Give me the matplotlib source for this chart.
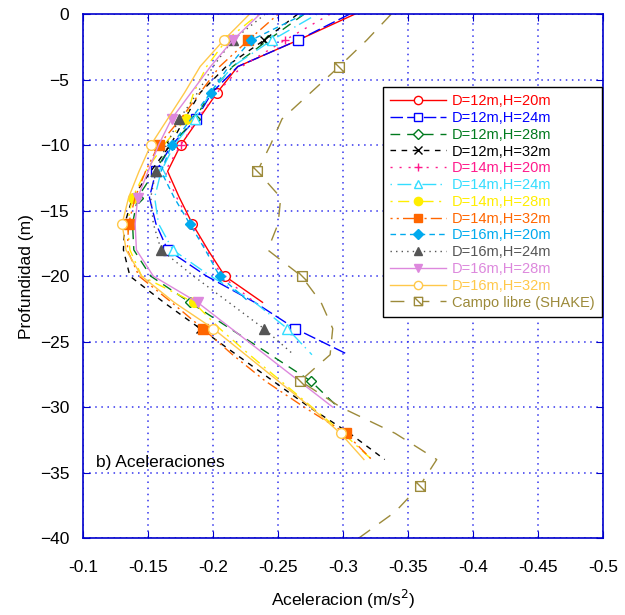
import matplotlib.pyplot as plt
from matplotlib.path import Path
import numpy as np

plt.rcParams['font.family'] = ['Liberation Sans', 'DejaVu Sans']

# profundidades cada 2 m
depth = np.arange(0, -42, -2)

# aceleraciones (m/s2)
a_d12_h20 = [-0.309, -0.265, -0.219, -0.203, -0.189, -0.175, -0.165, -0.174, -0.184, -0.196, -0.209, -0.238]
a_d12_h24 = [-0.305, -0.265, -0.219, -0.199, -0.187, -0.168, -0.156, -0.151, -0.156, -0.165, -0.195, -0.232, -0.263, -0.304]
a_d12_h28 = [-0.270, -0.242, -0.215, -0.198, -0.186, -0.168, -0.155, -0.142, -0.138, -0.139, -0.152, -0.182, -0.213, -0.244, -0.275, -0.296]
a_d12_h32 = [-0.265, -0.239, -0.210, -0.190, -0.178, -0.167, -0.152, -0.138, -0.132, -0.131, -0.136, -0.162, -0.190, -0.218, -0.246, -0.274, -0.305, -0.332]
a_d14_h20 = [-0.290, -0.255, -0.222, -0.203, -0.188, -0.175, -0.163, -0.172, -0.183, -0.195, -0.207, -0.232]
a_d14_h24 = [-0.280, -0.245, -0.215, -0.198, -0.186, -0.170, -0.160, -0.155, -0.158, -0.169, -0.198, -0.232, -0.257, -0.276]
a_d14_h28 = [-0.235, -0.210, -0.195, -0.185, -0.179, -0.162, -0.148, -0.138, -0.134, -0.136, -0.145, -0.185, -0.205, -0.228, -0.252, -0.276, -0.300, -0.322]
a_d14_h32 = [-0.250, -0.227, -0.205, -0.190, -0.175, -0.158, -0.148, -0.140, -0.135, -0.134, -0.143, -0.168, -0.192, -0.215, -0.240, -0.270, -0.302, -0.322]
a_d16_h20 = [-0.270, -0.229, -0.212, -0.198, -0.183, -0.168, -0.160, -0.170, -0.182, -0.194, -0.205, -0.228]
a_d16_h24 = [-0.240, -0.215, -0.200, -0.188, -0.174, -0.164, -0.156, -0.152, -0.154, -0.160, -0.185, -0.212, -0.239, -0.262]
a_d16_h28 = [-0.236, -0.215, -0.198, -0.183, -0.168, -0.158, -0.150, -0.142, -0.140, -0.141, -0.154, -0.188, -0.214, -0.240, -0.266, -0.292]
a_d16_h32 = [-0.228, -0.208, -0.190, -0.178, -0.165, -0.152, -0.143, -0.135, -0.130, -0.133, -0.145, -0.170, -0.200, -0.225, -0.250, -0.275, -0.298, -0.316]
a_shake = [-0.337, -0.318, -0.297, -0.275, -0.253, -0.244, -0.234, -0.252, -0.250, -0.242, -0.268, -0.283,
           -0.292, -0.290, -0.267, -0.298, -0.340, -0.372, -0.359, -0.340, -0.312]

labels = ['D=12m,H=20m', 'D=12m,H=24m', 'D=12m,H=28m', 'D=12m,H=32m',
          'D=14m,H=20m', 'D=14m,H=24m', 'D=14m,H=28m', 'D=14m,H=32m',
          'D=16m,H=20m', 'D=16m,H=24m', 'D=16m,H=28m', 'D=16m,H=32m',
          'Campo libre (SHAKE)']
series = [a_d12_h20, a_d12_h24, a_d12_h28, a_d12_h32,
          a_d14_h20, a_d14_h24, a_d14_h28, a_d14_h32,
          a_d16_h20, a_d16_h24, a_d16_h28, a_d16_h32, a_shake]

# cuadrado con diagonal para el campo libre
sq_diag = Path([(-1, -1), (1, -1), (1, 1), (-1, 1), (-1, -1), (-1, 1), (1, -1)],
               [Path.MOVETO, Path.LINETO, Path.LINETO, Path.LINETO, Path.CLOSEPOLY,
                Path.MOVETO, Path.LINETO])

# estilos: color, linea, marcador, relleno, indices con marcador
estilos = [
    ('#ff0000', '-', 'o', 'none', [1, 3, 5, 8, 10]),
    ('#0000ff', (0, (9, 3)), 's', 'none', [1, 4, 6, 9, 12]),
    ('#007a1e', (0, (7, 5)), 'D', 'none', [1, 4, 7, 11, 14]),
    ('#000000', (0, (4, 4)), 'x', 'none', [1, 5, 8, 12]),
    ('#ff1a8c', (0, (1.5, 5)), '+', 'none', [1, 5, 8, 10]),
    ('#33ddff', (0, (1, 4, 10, 3)), '^', 'none', [1, 4, 6, 9, 12]),
    ('#ffee00', (0, (1.5, 4, 8, 4)), 'o', 'full', [1, 4, 7, 11]),
    ('#ff6600', (0, (1.5, 3, 1.5, 3, 8, 3)), 's', 'full', [1, 5, 8, 12, 16]),
    ('#00aaee', (0, (4, 3)), 'D', 'full', [1, 3, 5, 8, 10]),
    ('#555555', (0, (1, 3)), '^', 'full', [1, 4, 6, 9, 12]),
    ('#dd88dd', '-', 'v', 'full', [1, 4, 7, 11]),
    ('#ffc84a', '-', 'o', 'none', [1, 5, 8, 12, 16]),
    ('#9c8a3a', (0, (10, 8)), sq_diag, 'none', [2, 6, 10, 14, 18]),
]

fig = plt.figure(figsize=(6.25, 6.15), dpi=100)
ax = fig.add_axes([0.133, 0.125, 0.832, 0.852])

for vals, lab, (c, ls, mk, fill, idx) in zip(series, labels, estilos):
    y = depth[:len(vals)]
    mfc = c if fill == 'full' else 'white'
    ms = 6
    if mk in ('o', '^', 'v'):
        ms = 7
    elif mk == 's':
        ms = 6.5
    elif mk == 'D':
        ms = 5.5
    elif mk is sq_diag:
        ms = 7
    ax.plot(vals, y, color=c, linestyle=ls, linewidth=1.0,
            marker=mk, markevery=idx, markersize=ms,
            markerfacecolor=mfc, markeredgecolor=c, markeredgewidth=1.0,
            label=lab)

ax.set_xlim(-0.1, -0.5)
ax.set_ylim(-40, 0)
ax.set_xticks(np.arange(-0.1, -0.51, -0.05))
ax.set_xticklabels(['-0.1', '-0.15', '-0.2', '-0.25', '-0.3', '-0.35', '-0.4', '-0.45', '-0.5'])
ax.set_yticks(np.arange(-40, 1, 5))

for s in ax.spines.values():
    s.set_color('#0000cc')
    s.set_linewidth(1.2)
ax.tick_params(direction='in', color='#0000cc', length=5, top=True, right=True,
               labelsize=12.5)
ax.tick_params(axis='x', pad=16)
ax.tick_params(axis='y', pad=10)
ax.grid(True, color='#3333ee', linestyle=(0, (1, 3)), linewidth=1.1)

ax.set_xlabel('Aceleracion (m/s$^2$)', fontsize=12.5, labelpad=9)
ax.set_ylabel('Profundidad (m)', fontsize=12.5, labelpad=4)

ax.text(-0.11, -34.2, 'b) Aceleraciones', fontsize=12.5, va='center')

leg = ax.legend(loc='upper left', bbox_to_anchor=(0.577, 0.861), borderaxespad=0,
                fontsize=10.5, handlelength=3.8, handletextpad=0.4, labelspacing=0.19,
                borderpad=0.5, fancybox=False, framealpha=1, edgecolor='black',
                markerscale=0.85)
leg.get_frame().set_linewidth(1.0)
for t, est in zip(leg.get_texts(), estilos):
    t.set_color(est[0])

fig.savefig('out.png', dpi=100, facecolor='white')
